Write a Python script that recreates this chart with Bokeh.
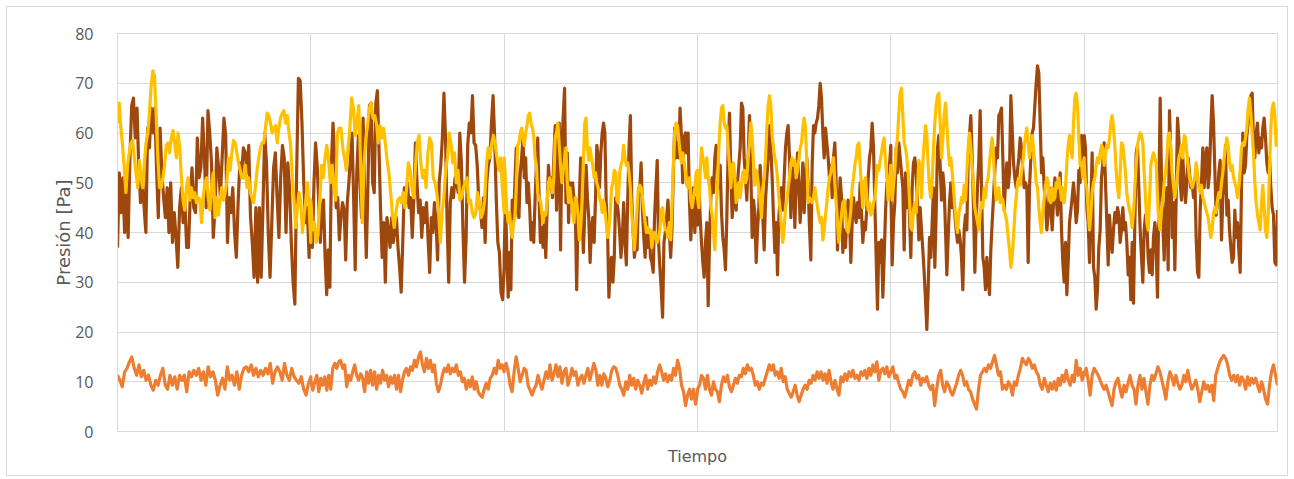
import numpy as np
from bokeh.plotting import figure
from bokeh.models import FixedTicker, Range1d
from bokeh.embed import file_html
from bokeh.resources import INLINE

# ---- data: pressure readings [Pa], one list per time division (6 divisions) ----
brown_seg1 = [37, 52, 44, 51, 40, 49, 39, 55, 65.5, 67, 59, 65, 53, 46, 52, 45, 40, 61, 57, 65, 60, 65, 53, 43, 61, 52, 47, 43, 49, 40, 50, 38, 44, 39, 33, 45, 49, 42, 46, 37, 37, 47, 53, 45, 44, 59, 51, 53, 63, 55, 45, 64.5, 60, 54, 39, 45, 57, 53, 47, 55, 63, 59.5, 38, 47, 44, 49, 40, 35, 46, 54, 52, 57, 56, 52, 57.5, 43, 38, 31, 45, 30, 45, 31, 45, 60, 54, 40, 31, 42, 53, 56, 47, 39, 51, 57.5, 55, 40, 54, 49, 38, 30, 25.6, 52, 71, 70.5, 62, 50, 42, 45, 35, 46.5]
brown_seg2 = [46.5, 37, 50, 58, 53.5, 46, 38, 45, 46.5, 35, 27.5, 36.5, 29, 54, 62, 55, 45, 47, 38.5, 43, 46, 44.5, 34.5, 46, 50, 55, 60, 47, 32.5, 52, 59.5, 50, 43, 63, 47, 35, 49, 65.5, 66, 50, 48, 66, 68.5, 57, 44.5, 35, 42, 30, 43, 40.5, 37, 43, 38, 40.5, 43, 37, 33, 28, 38, 49, 46, 50, 45, 47, 39, 47, 58, 50, 44, 46.5, 39, 45, 42, 46, 38.5, 32, 43, 40, 46, 42, 34.5, 50, 53.5, 59, 68, 59, 42, 30, 46, 49, 47, 51, 50, 48, 60, 54, 40.5, 30, 39, 57.5, 62, 60, 67.5, 58, 57.5, 53.5, 46, 44.5, 41, 47, 38, 50, 53.5, 55, 62, 67.5, 59, 47, 38, 36, 28, 26.5, 33]
brown_seg3 = [35, 47, 35, 27, 36, 28.5, 46.5, 42, 50, 57, 44, 43, 52, 55, 59, 51, 55, 46, 50, 45, 38.5, 42, 38, 46.5, 53.5, 59, 47, 38, 41, 37, 43, 35, 45, 53.5, 49, 51, 47, 55, 61.5, 44.5, 52, 62, 36.5, 57, 63.5, 69, 46, 56, 42, 50, 46, 50, 46.5, 44.5, 28.5, 43, 47, 55, 44, 36, 44, 53.5, 47, 43, 34, 40.5, 43, 38, 46.5, 57.5, 55, 49, 56, 60, 62, 60, 46, 40.5, 27, 33, 35, 30, 35, 47, 46, 44, 40, 35, 39, 46, 38, 33.5, 46.5, 57, 63.5, 47, 40.5, 35, 37, 36.5, 47, 49, 54, 44.5, 39, 35, 43, 37, 40.5, 35, 34, 32, 43, 49, 54.5, 38, 33, 28.5, 23, 38, 40, 43, 46.5, 40.5, 35, 40.5, 52, 61, 55, 58, 55, 65, 59.5, 50, 59, 60, 56, 60, 46.5, 38.5, 44.5, 49, 40, 47, 46.5]
brown_seg4 = [41.5, 50, 43, 38, 34, 31, 38, 42, 25.3, 38, 47, 51, 48, 55, 57.5, 54.5, 49, 53.5, 44, 39, 36.5, 32.5, 43, 57, 64, 52, 43, 47, 51, 44.5, 50, 53.5, 57, 66, 65, 55, 51, 46.5, 55, 63.5, 52.5, 39, 46.5, 44, 34, 40.5, 45, 53.5, 47, 43, 36.5, 46.5, 51, 55, 61.5, 57, 51, 43, 36, 42, 31.5, 43, 47, 49, 44.5, 51, 57, 60, 61.5, 55, 43, 49, 54.5, 41, 50, 56, 49.5, 42, 48, 54, 44, 50, 55, 49, 41, 34.5, 53.5, 61.5, 60, 62, 63, 65.5, 70, 67, 60, 55, 61, 58, 55, 51, 53.5, 47, 55, 58, 50, 36.5, 44, 51, 47, 36, 40.5, 37, 43, 46.5, 43, 34, 42, 47, 44, 42, 46, 43, 50, 44, 38, 42, 40.5, 45, 51, 55, 57, 62, 57, 46, 35, 24.6, 38, 34, 38.5, 27, 35, 44, 50, 49, 53.5, 57.5]
brown_seg5 = [50, 33.5, 42, 46, 57, 52, 58, 55, 52, 49, 36.5, 52, 45, 51, 43.5, 35, 49, 54, 55, 52, 46, 38.5, 45, 40.5, 36.5, 32, 26.5, 20.5, 28.5, 39, 35, 42, 49, 33, 44, 57, 59.5, 53.5, 46.5, 52, 49, 40.5, 31.5, 39, 46, 50, 45, 47, 43.5, 40.5, 38, 40.5, 38.5, 35, 28.5, 40.5, 43.5, 40.5, 55, 59.5, 63.5, 55, 45, 32, 42, 49, 54.5, 64.5, 49, 35, 33, 28.5, 35, 31, 27.5, 36.5, 42, 47, 52.5, 57, 55, 63.5, 64, 65, 55, 44.5, 50, 54, 49, 52, 67.5, 61, 54, 51, 49, 52.5, 55, 59, 57, 52.5, 49, 50, 49, 34, 49, 55, 60, 61, 65.5, 70, 73.5, 72, 62, 52, 55, 49, 46, 40.5, 43.5, 49, 45, 40.5, 46, 51, 47, 43.5, 48, 52, 40.5, 34, 30, 38, 27.5, 34, 42, 44.5, 47, 50, 46.5, 42, 44.5, 52.5, 50, 59.5, 55, 58]
brown_seg6 = [59.5, 57, 45, 42, 34, 45, 56, 33, 31, 24.6, 28.5, 37, 40.5, 51, 54, 58, 50, 42, 33.5, 43.5, 39, 36, 40.5, 44, 42, 45, 43.5, 38, 40.5, 45, 40.5, 42, 38, 31.5, 35, 26.5, 38, 25.8, 42, 56, 57.5, 49, 40.5, 35, 30, 40.5, 43.5, 42, 35, 32, 36.5, 31.5, 39, 42, 36.5, 27, 47, 67, 51, 42, 34.5, 44.5, 49, 32.5, 64.5, 55, 39, 46, 32.5, 47, 63, 59, 50, 46.5, 55, 50, 46, 50, 55, 52, 49, 50, 47, 51, 39, 32, 31, 44.5, 50, 57, 49, 55, 57, 49, 52, 61, 67.5, 62, 52.5, 43.5, 46, 52, 54.5, 38.5, 47, 50, 57.5, 43.5, 46.5, 40.5, 37, 34, 35, 44.5, 39, 42, 36.5, 32, 49, 60, 52, 53.5, 59.5, 62, 64.5, 67.5, 68, 58, 55, 60, 62, 56, 59, 57, 61, 63, 59, 54, 52, 55, 49, 45, 43.5, 34, 33.5, 44.5]

yellow_seg1 = [62, 66, 61, 57.5, 53, 48, 53.5, 56, 58, 58.5, 55, 52, 49, 54.5, 51, 49, 54, 58, 60, 64, 69.5, 72.5, 71.5, 63.5, 55, 49, 49, 51, 53.5, 57.5, 58, 56, 59, 60.5, 58, 55, 60, 57, 51, 46.5, 44.5, 49, 51, 46.5, 49, 47, 48, 46, 47, 46.5, 42, 47, 50, 51, 47, 44.5, 49, 52, 43, 47, 43.5, 46.5, 49, 46.5, 48, 50, 55, 52.5, 56, 58.5, 58, 56, 54, 52.5, 51, 51, 53.5, 49, 51, 48, 47, 46, 49, 52.5, 55, 57, 58, 58, 61, 64, 63.5, 62, 60, 61, 61.5, 58, 61, 63, 64, 64.5, 62, 63.5, 60, 57.5, 51, 46.5, 41, 45, 48, 46, 40, 43.5, 46.5, 50, 45, 38]
yellow_seg2 = [46.5, 40.5, 42, 38, 39.5, 46, 53.5, 51, 55, 57.5, 54.5, 50, 53.5, 49, 46.5, 60, 61, 61, 57, 55, 52.5, 57, 61, 67, 65, 59.5, 62, 65.5, 55, 42, 53.5, 59, 61.5, 65, 66, 63, 63.5, 62, 58, 61.5, 59, 61, 58, 54.5, 52, 48, 43.5, 41, 44, 46.5, 47, 46, 48, 45, 49, 54, 52.5, 49, 47, 53.5, 58, 59.5, 54, 51, 52.5, 49, 56, 59, 58, 51, 50, 48, 44.5, 38, 44, 47, 52.5, 55, 60, 58, 54, 56, 50, 52.5, 46.5, 47, 49, 50, 51, 46, 46.5, 44, 43, 44, 48, 46, 43, 44, 46.5, 53.5, 57, 55, 58, 59.5, 57.5, 55, 52.5, 55, 49, 44]
yellow_seg3 = [55, 50, 44, 42, 44, 40.5, 39, 42, 43, 49, 57.5, 58, 60, 61, 59, 57.5, 60, 61.5, 63.5, 64, 62, 61, 59.5, 55, 53.5, 48, 46.5, 46.5, 44, 42, 44, 43.5, 46, 50, 51, 49.5, 48, 51, 59, 60, 62, 57.5, 53.5, 50, 52.5, 54.5, 57, 50, 46, 49, 46.5, 44, 42, 47, 46, 43.5, 38.5, 41, 46, 54.5, 62, 63, 57, 54.5, 57, 55, 53.5, 51, 52, 50, 49, 47, 46, 44, 46.5, 45, 42, 39, 40.5, 44, 49, 50, 52.5, 52, 46.5, 46, 52, 53.5, 54.5, 57.5, 55, 53.5, 54, 52, 49, 44, 40.5, 36.5, 40.5, 45, 49, 49.5, 49, 47, 44.5, 42, 40, 41, 40, 40.5, 37, 39, 40, 39, 38, 39, 40.5, 44.5, 45, 42, 40.5, 40.5, 39, 42, 38.5, 45, 53.5, 60, 62, 61.5, 59, 56, 54, 56, 54.5, 52, 49.5, 49, 51, 46.5, 45, 47, 49, 52, 52.5]
yellow_seg4 = [47, 45, 52, 57, 55, 53.5, 51, 55, 51, 49, 45, 43.5, 40, 36.5, 44, 49.5, 57, 62, 65, 65.5, 62, 61, 61.5, 57, 53.5, 49, 53.5, 54, 51, 46, 49, 50, 47, 49.5, 52, 52.5, 50, 51, 55, 58, 62, 59, 54, 49.5, 52.5, 51, 49, 46, 43, 49, 51, 55, 61, 65.5, 67.5, 65.5, 59.5, 57, 55, 53.5, 51, 47, 44.5, 41, 38, 41, 45, 46.5, 49, 51, 54, 55, 53.5, 54.5, 51, 52.5, 54.5, 57, 58, 61, 63, 61, 53.5, 46, 47, 46.5, 46, 47, 49, 47, 45, 43.5, 42, 43, 38.5, 40.5, 43.5, 46, 49, 51, 52, 53.5, 55, 50, 46, 42, 38, 41, 43.5, 46, 46.5, 44, 40.5, 40, 42, 44.5, 49, 51, 53.5, 55, 57.5, 58, 53.5, 49, 45, 50, 51, 47, 44.5, 46, 43.5, 44, 46, 47, 50, 53.5, 52.5, 54.5, 56, 58, 59, 54.5, 51, 46.5, 50, 53.5]
yellow_seg5 = [50.5, 46.5, 49.5, 52.5, 57, 59, 64, 68, 69, 63.5, 58, 57, 55, 52, 46.5, 41, 40.5, 44.5, 46, 44, 49, 54.5, 52.5, 47, 54, 58, 61.5, 59.5, 53.5, 49, 47, 50, 57, 62, 65.5, 67.5, 68, 62, 55, 59, 63.5, 66, 62, 57, 53.5, 55, 52, 49, 45, 42, 40, 44, 45, 47, 46, 49.5, 46.5, 52, 57, 60, 57, 53.5, 49, 45, 43.5, 42, 40.5, 44, 46, 45, 49, 47, 50, 51, 54, 57, 59, 55, 50, 46.5, 47, 49, 46, 47, 46.5, 44.5, 43.5, 42, 39, 36.5, 33, 35, 39, 44, 47, 50, 51, 49.5, 52, 54, 57, 59.5, 61, 58, 55, 57, 59.5, 57, 53.5, 50, 49, 45, 42, 40, 44, 47, 49.5, 51, 50, 46.5, 46, 49, 46.5, 47, 50, 49, 51, 49, 46.5, 49, 46, 49, 54, 57.5, 59.5, 57, 55, 62, 67, 68, 65.5, 59, 53.5, 54, 51, 55]
yellow_seg6 = [54, 50, 49, 44.5, 40.5, 43.5, 48, 50, 51, 53.5, 55, 54, 56, 57.5, 57, 53.5, 56, 57.5, 57, 59, 62, 63.5, 61, 57.5, 52.5, 49, 47, 52, 58, 57.5, 55, 52, 48, 46, 44.5, 43.5, 41, 44, 49, 53.5, 57.5, 59, 60, 59.5, 58, 52, 47, 42, 40.5, 46.5, 53.5, 55, 56, 55, 54, 47, 42, 40.5, 44.5, 46.5, 50, 52, 55, 59.5, 60, 57, 52, 49.5, 47, 49, 52, 55, 56, 57.5, 55, 59.5, 59, 56, 53.5, 51, 50, 49, 50, 51, 54, 52, 49, 48, 49.5, 47, 46, 45, 44, 43, 41, 39, 40.5, 44, 45, 44, 46.5, 48, 47, 50, 52, 55, 57, 59, 57.5, 54, 52.5, 53.5, 51, 50, 49, 47, 49, 52.5, 57, 58, 57.5, 59, 61, 65, 67, 64, 60, 56, 50, 46, 43.5, 42, 40.5, 46, 49.5, 45, 40.5, 39, 43.5, 52.5, 61, 65, 66, 63.5, 57.5, 61]

orange_seg1 = [11.3, 10.3, 9, 12, 12.7, 14, 15, 12.7, 11.3, 13.4, 11, 12.3, 10.3, 11.3, 9.3, 8.3, 10.3, 9.3, 11.3, 12.7, 9.3, 8.5, 11.3, 9.3, 11, 8.5, 11.3, 10.3, 11.3, 8, 12, 11, 12.3, 11.3, 12.7, 10.3, 12, 9.3, 13, 11, 12, 10.3, 7.3, 9.3, 10.7, 8.5, 13, 10.3, 11.3, 9.3, 12, 8.5, 11.3, 12.7, 13, 12, 13.4, 11.3, 12.7, 11, 12.3, 11.3, 12.7, 11.6, 13.7, 9.7, 12, 13, 12, 10.3, 13.7, 11.3, 10.3, 12.7, 11, 10.3, 9.7, 11, 8.5, 7.3, 9.7, 11]
orange_seg2 = [10.3, 8.3, 10, 11.3, 8, 10.7, 9.3, 11, 8.3, 11.3, 8.5, 12.7, 13.7, 12.7, 14, 14.3, 12.7, 13.4, 9, 11.3, 10.3, 12, 13.4, 11.3, 10.3, 11.6, 10.7, 8, 12, 9.7, 12.3, 9.3, 12, 8.5, 11.3, 9.7, 12.3, 10.3, 11.3, 9, 11, 9.7, 11.3, 8.5, 11.3, 8, 10.3, 12, 12.7, 11.3, 13, 12.3, 14.3, 13, 15, 16, 13.4, 12, 14.7, 12.7, 14.3, 12, 13.4, 9.7, 8, 9.3, 11.3, 12.7, 12, 13.4, 11.6, 12.7, 12, 13.4, 11.3, 12, 10, 10.7, 8.5, 10.3, 9, 11, 8.5, 10, 8, 7.3, 6.9, 8.5, 9.7, 8.5, 10.7, 11.3, 12.7, 11.6, 14.3, 12.7, 13.4, 12]
orange_seg3 = [12.7, 13.7, 12, 9.3, 8, 12, 15, 12.7, 10, 11.3, 12.7, 12.3, 9.3, 8.3, 7.3, 8.5, 9.3, 11.3, 9.7, 8.5, 10.3, 12, 10.7, 13.4, 10.3, 11.6, 13.4, 11, 13, 9.7, 12, 12.7, 9.3, 10.7, 12.7, 11.3, 12, 9.3, 10.7, 11.3, 9.7, 11.3, 12.7, 10.3, 12, 13.7, 12.3, 9.3, 11.3, 9.3, 11.6, 10.7, 9, 10.3, 12.3, 13, 12.7, 11.3, 9.3, 8.5, 7.3, 10, 8.5, 11.3, 9.3, 10.7, 8.5, 10.3, 9.3, 7.7, 9.7, 11.3, 8.5, 10.3, 9.3, 11, 9.7, 12, 13.4, 12, 10.3, 11.6, 10, 11.3, 10.3, 12.7, 11.3, 14.3, 12.7, 9.3, 8, 5.2, 7.3, 8.5, 6.5, 8.5, 5.5, 8]
orange_seg4 = [8.5, 9.3, 11.3, 10.7, 8.5, 11.3, 8.5, 7.3, 10, 8.5, 8, 6, 9.3, 11, 10, 11.3, 9, 8, 9.3, 10.7, 9.7, 11.3, 11, 12.7, 11.6, 13.4, 12.3, 12.7, 11.3, 9.3, 10, 8.5, 9.7, 9.3, 10.7, 12, 13.4, 12.3, 13.4, 11.3, 12, 10.7, 12.7, 10, 11, 8.5, 7.7, 6.9, 8, 9.3, 7.3, 6, 7.3, 8.5, 9.3, 8.5, 10.3, 9.7, 11.3, 10.3, 12, 10.7, 12, 10.3, 11.6, 9.7, 12.3, 10, 8.5, 10.3, 8.5, 7.3, 11, 10, 11.6, 10.3, 12, 11, 12.3, 10.7, 11.3, 10.3, 12, 11.3, 12.3, 10.7, 12.7, 11.3, 13.4, 12, 14, 10.3, 12.3, 12.7, 11.6, 13, 11, 12]
orange_seg5 = [12, 13, 10.7, 11.3, 9.7, 8.5, 8, 6.9, 8.5, 10.3, 9.3, 11.3, 12, 10.7, 11.3, 9.3, 10.7, 10, 11, 9.3, 8.5, 9.3, 5.2, 8.5, 11.3, 12.3, 9.3, 8, 10, 9.3, 8, 7.3, 8.5, 9.7, 11.3, 12.3, 11.3, 9.3, 10, 8.5, 8, 6.5, 5.5, 4.5, 8.5, 11.3, 12, 12.7, 12, 13.4, 12.7, 14, 15.3, 13.4, 11.3, 12, 8.5, 9.3, 8.5, 10, 9.3, 7.3, 10, 9.3, 11.3, 12.7, 14.7, 14, 13.4, 14.7, 14, 12.7, 13.4, 12, 11.3, 9.3, 8.5, 10.7, 9.3, 8, 9.7, 8.5, 10, 8.3, 10.7, 9.3, 11.3, 10, 12.3, 10.3, 9.3, 11.3, 10, 14.3, 11.3, 12.7, 10.3, 12]
orange_seg6 = [11.3, 12.7, 10.3, 7.3, 11.3, 12.7, 12, 11.3, 10.3, 9.3, 8.5, 9.3, 8, 6.5, 5.2, 8.5, 10, 10.7, 8.5, 6.9, 9.3, 8, 9.7, 11.3, 9.3, 8.5, 5.5, 9.3, 11.3, 8.5, 10.7, 8, 5.5, 9.3, 11.3, 10.3, 11.6, 13, 12, 10.3, 8.5, 6.5, 10, 12, 11, 9.3, 11.3, 9.7, 8.5, 9.3, 11.3, 10, 12.3, 10, 8.5, 9.3, 10.3, 8.5, 6, 8, 10, 8.5, 9.3, 8, 9.3, 6.2, 11.3, 12.7, 14, 14.7, 15.3, 14.7, 13.4, 11.3, 10.3, 11.3, 10, 11.3, 9.3, 11, 10.3, 8.5, 11, 9.3, 10.7, 9.7, 10.7, 9.3, 8, 10, 8.5, 6.5, 5.5, 9.3, 12, 13.4, 11.3, 9.3]

y_ticks = [0, 10, 20, 30, 40, 50, 60, 70, 80]
x_divisions = [0, 1, 2, 3, 4, 5, 6]
x_label = "Tiempo"
y_label = "Presión [Pa]"


def build(segs):
    xs, ys = [], []
    for k, seg in enumerate(segs):
        xs.extend(np.linspace(k, k + 1, len(seg)).tolist())
        ys.extend(seg)
    return xs, ys


bx, by = build([brown_seg1, brown_seg2, brown_seg3, brown_seg4, brown_seg5, brown_seg6])
yx, yy = build([yellow_seg1, yellow_seg2, yellow_seg3, yellow_seg4, yellow_seg5, yellow_seg6])
ox, oy = build([orange_seg1, orange_seg2, orange_seg3, orange_seg4, orange_seg5, orange_seg6])

GRID = "#d9d9d9"
TXT = "#595959"

p = figure(width=1282, height=470, output_backend="svg", toolbar_location=None,
           x_range=Range1d(x_divisions[0], x_divisions[-1]),
           y_range=Range1d(y_ticks[0], y_ticks[-1]),
           min_border_left=110, min_border_right=12, min_border_top=26, min_border_bottom=46,
           styles={"border": "1px solid #d9d9d9", "margin": "6px 0px 0px 6px"})
p.background_fill_color = "white"
p.border_fill_color = "white"
p.outline_line_color = GRID
p.outline_line_width = 1

p.xaxis.ticker = FixedTicker(ticks=[])
p.yaxis.ticker = FixedTicker(ticks=y_ticks)
p.xgrid.ticker = FixedTicker(ticks=x_divisions)
p.ygrid.ticker = FixedTicker(ticks=y_ticks)
p.grid.grid_line_color = GRID
p.grid.grid_line_width = 1

for ax in (p.xaxis[0], p.yaxis[0]):
    ax.axis_line_color = GRID
    ax.major_tick_line_color = None
    ax.minor_tick_line_color = None
    ax.axis_label_text_color = TXT
    ax.axis_label_text_font = "DejaVu Sans"
    ax.axis_label_text_font_size = "16px"
    ax.axis_label_text_font_style = "normal"
    ax.major_label_text_color = TXT
    ax.major_label_text_font = "Open Sans"
    ax.major_label_text_font_size = "16px"

p.xaxis.major_label_standoff = 0
p.xaxis.axis_label = x_label
p.xaxis.axis_label_standoff = 15
p.yaxis.axis_label = y_label
p.yaxis.axis_label_text_font_size = "18px"
p.yaxis.major_label_standoff = 18
p.yaxis.axis_label_standoff = -2

p.line(ox, oy, line_color="#ED7D31", line_width=3.2, line_join="round")
p.line(bx, by, line_color="#9E480E", line_width=3.2, line_join="round")
p.line(yx, yy, line_color="#FFC000", line_width=3.2, line_join="round")

open("out.html", "w").write(file_html(p, INLINE))
